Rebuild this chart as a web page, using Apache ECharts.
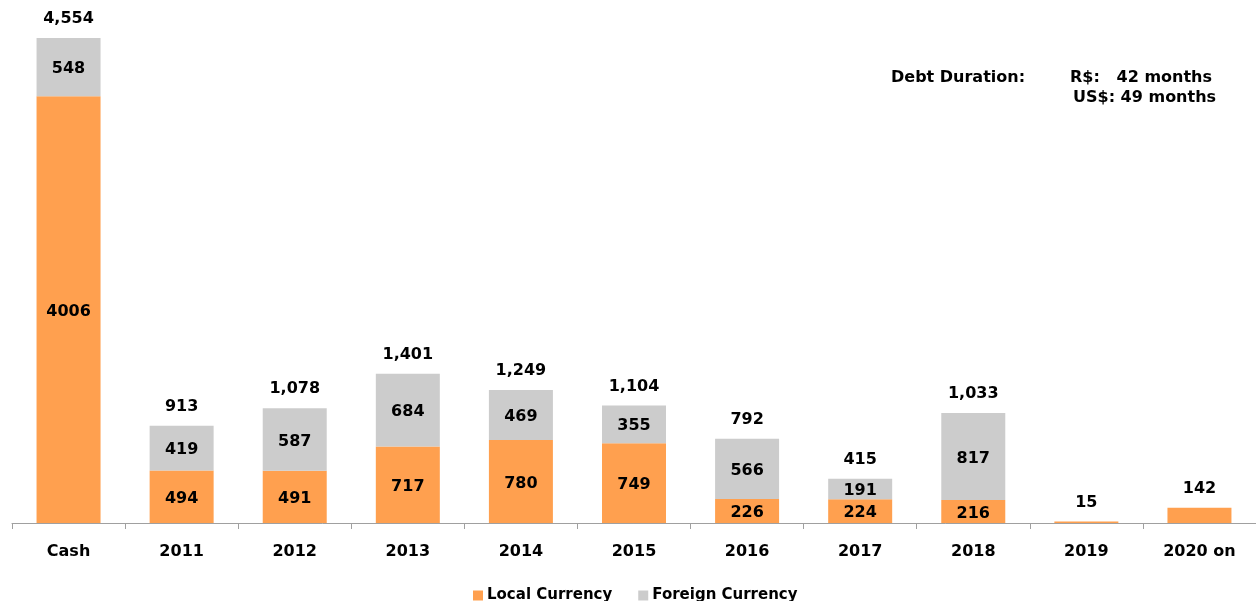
<!DOCTYPE html>
<html>
<head>
<meta charset="utf-8">
<script src="https://cdn.jsdelivr.net/npm/echarts@6/dist/echarts.min.js"></script>
<style>html,body{margin:0;padding:0;background:#fff;}#c{width:1256px;height:601px;}</style>
</head>
<body>
<div id="c"></div>
<script>
const categories = ['Cash','2011','2012','2013','2014','2015','2016','2017','2018','2019','2020 on'];
const localCurrency = [4006, 494, 491, 717, 780, 749, 226, 224, 216, 15, 142];
const foreignCurrency = [548, 419, 587, 684, 469, 355, 566, 191, 817, 0, 0];
const seriesNames = ['Local Currency', 'Foreign Currency'];
const durationLines = ['Debt Duration:', 'R$:   42 months', 'US$: 49 months'];

const totals = localCurrency.map((v, i) => v + foreignCurrency[i]);
const FONT = 'DejaVu Sans';
const insideLabel = {
  show: true, position: 'inside', offset: [0, 2], color: '#000', fontFamily: FONT, fontWeight: 'bold', fontSize: 16,
  formatter: p => (p.value >= 150 ? String(p.value) : '')
};

const chart = echarts.init(document.getElementById('c'));
chart.setOption({
  animation: false,
  textStyle: { fontFamily: FONT },
  grid: { left: 12, width: 1246, top: 33, bottom: 78 },
  legend: {
    data: seriesNames, left: 468, top: 583, itemWidth: 10, itemHeight: 10, itemGap: 26,
    icon: 'rect',
    textStyle: { color: '#000', fontFamily: FONT, fontWeight: 'bold', fontSize: 15, padding: [0, 0, 0, -1] }
  },
  xAxis: {
    type: 'category', data: categories,
    axisLine: { lineStyle: { color: '#a0a0a0', width: 1 } },
    axisTick: { show: true, length: 6, lineStyle: { color: '#a0a0a0' } },
    axisLabel: { color: '#000', fontFamily: FONT, fontWeight: 'bold', fontSize: 16, margin: 21 }
  },
  yAxis: { type: 'value', min: 0, max: 4600, show: false, splitLine: { show: false } },
  graphic: [
    { type: 'text', left: 891, top: 70, style: { text: durationLines[0], fill: '#000', font: 'bold 16px "DejaVu Sans"' } },
    { type: 'text', left: 1070, top: 70, style: { text: durationLines[1], fill: '#000', font: 'bold 16px "DejaVu Sans"' } },
    { type: 'text', left: 1073, top: 90, style: { text: durationLines[2], fill: '#000', font: 'bold 16px "DejaVu Sans"' } }
  ],
  series: [
    { name: seriesNames[0], type: 'bar', stack: 's', data: localCurrency, barWidth: 64,
      itemStyle: { color: '#ffa04f' }, label: insideLabel },
    { name: seriesNames[1], type: 'bar', stack: 's', data: foreignCurrency, barWidth: 64,
      itemStyle: { color: '#cccccc' }, label: insideLabel },
    { name: 'Total', type: 'bar', stack: 's', data: totals.map(() => 0), barWidth: 64,
      itemStyle: { color: 'transparent' },
      label: { show: true, position: 'top', distance: 11, color: '#000', fontFamily: FONT, fontWeight: 'bold', fontSize: 16,
        formatter: p => totals[p.dataIndex].toLocaleString('en-US') } }
  ]
});
</script>
</body>
</html>
